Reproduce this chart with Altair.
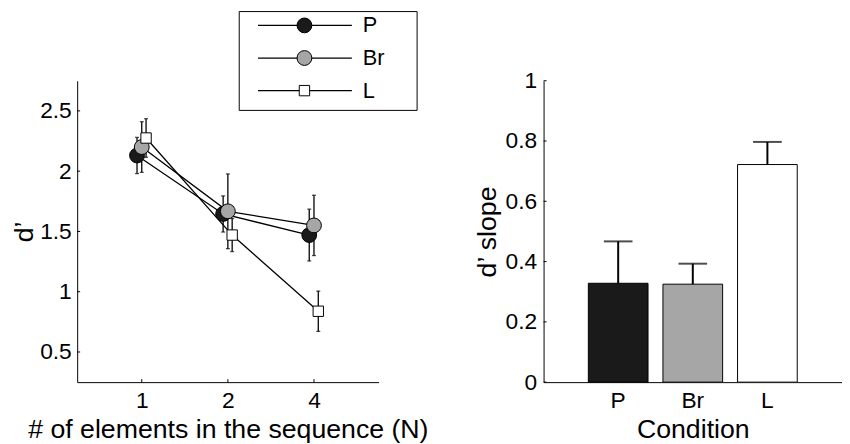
import altair as alt
import pandas as pd

# ---------------- data ----------------
N_labels = ["1", "2", "4"]
series = ["P", "Br", "L"]
dprime_P = [2.13, 1.645, 1.47]
dprime_Br = [2.20, 1.667, 1.55]
dprime_L = [2.275, 1.47, 0.838]
err_P = [0.15, 0.15, 0.215]
err_Br = [0.21, 0.31, 0.25]
err_L = [0.16, 0.137, 0.167]
slope = [0.328, 0.325, 0.722]
slope_err = [0.139, 0.068, 0.075]
left_yticks = [0.5, 1, 1.5, 2, 2.5]
right_yticks = [0, 0.2, 0.4, 0.6, 0.8, 1]

# ---------------- style ----------------
FONT = "Liberation Sans"
fills = ["#1a1a1a", "#a6a6a6", "#ffffff"]
marker_shape = {"P": "circle", "Br": "circle", "L": "square"}
marker_size = {"P": 225, "Br": 225, "L": 110}
dodge = {"P": -0.055, "Br": 0.0, "L": 0.05}

rows = []
for s, vals, errs in [("P", dprime_P, err_P), ("Br", dprime_Br, err_Br), ("L", dprime_L, err_L)]:
    for i, (v, e) in enumerate(zip(vals, errs)):
        rows.append({"series": s, "idx": i + 1, "xpos": i + 1 + dodge[s],
                     "d": v, "lo": v - e, "hi": v + e})
df = pd.DataFrame(rows)

W1, W2, H = 305, 302, 305
xs = alt.Scale(domain=[0.25, 3.75], nice=False, zero=False)
ys = alt.Scale(domain=[0.25, 2.75], nice=False, zero=False)
color_sc = alt.Scale(domain=series, range=fills)

label_expr = "[" + ",".join("'%s'" % l for l in N_labels) + "][datum.value - 1]"
XTITLE = "# of elements in the sequence (N)"
YTITLE = "d\u2019"


def xq(field):
    return alt.X(field, type="quantitative", scale=xs, title=XTITLE,
                 axis=alt.Axis(values=[1, 2, 3], labelExpr=label_expr, labelPadding=8,
                               titlePadding=4, labelAngle=0))


def yq(field):
    return alt.Y(field, type="quantitative", scale=ys, title=YTITLE,
                 axis=alt.Axis(values=left_yticks, format="~g", labelPadding=6, titlePadding=1))


def fill_enc(field):
    return alt.Fill(field, type="nominal", scale=color_sc, legend=None)


base = alt.Chart(df)
err_rule = base.mark_rule(color="black", strokeWidth=1.3).encode(x=xq("xpos"), y=yq("lo"), y2="hi:Q")
cap_lo = base.mark_tick(orient="horizontal", size=4, thickness=1.3, color="black").encode(x=xq("xpos"), y=yq("lo"))
cap_hi = base.mark_tick(orient="horizontal", size=4, thickness=1.3, color="black").encode(x=xq("xpos"), y=yq("hi"))
lines = base.mark_line(color="black", strokeWidth=1.3).encode(
    x=xq("xpos"), y=yq("d"), detail="series:N", order="idx:Q")

point_layers = []
for s in series:
    point_layers.append(
        base.transform_filter(alt.datum.series == s).mark_point(
            filled=True, stroke="black", strokeWidth=1, opacity=1, fillOpacity=1,
            shape=marker_shape[s], size=marker_size[s]
        ).encode(x=xq("xpos"), y=yq("d"), fill=fill_enc("series"))
    )

yt_left = alt.Chart(pd.DataFrame({"v": left_yticks})).mark_rule(color="black", strokeWidth=1).encode(
    y=yq("v"), x=alt.value(0), x2=alt.value(3))
xt_left = alt.Chart(pd.DataFrame({"v": [1, 2, 3]})).mark_rule(color="black", strokeWidth=1).encode(
    x=xq("v"), y=alt.value(H), y2=alt.value(H - 3))

# legend drawn in the left panel
legend_layers = [
    alt.Chart(pd.DataFrame({"series": ["box"]})).mark_rect(fill="white", stroke="black", strokeWidth=1).encode(
        x=alt.value(164), x2=alt.value(344), y=alt.value(-70), y2=alt.value(30))
]
LY = [-56, -23, 10]
for i, s in enumerate(series):
    ld = alt.Chart(pd.DataFrame({"series": [s]}))
    legend_layers.append(ld.mark_rule(color="black", strokeWidth=1.3).encode(
        x=alt.value(183), x2=alt.value(278), y=alt.value(LY[i])))
    legend_layers.append(ld.mark_point(
        filled=True, stroke="black", strokeWidth=1, opacity=1, fillOpacity=1,
        shape=marker_shape[s], size=marker_size[s]
    ).encode(x=alt.value(230), y=alt.value(LY[i]), fill=fill_enc("series")))
    legend_layers.append(ld.mark_text(align="left", baseline="middle", font=FONT, fontSize=22, color="black").encode(
        x=alt.value(289), y=alt.value(LY[i]), text="series:N"))

left = alt.layer(err_rule, cap_lo, cap_hi, lines, *point_layers, yt_left, xt_left, *legend_layers).properties(
    width=W1, height=H)

# ---------------- right panel ----------------
df2 = pd.DataFrame({"cond": series, "slope": slope,
                    "hi": [a + b for a, b in zip(slope, slope_err)]})
xb_scale = alt.Scale(domain=series, paddingInner=0.2, paddingOuter=0.6)
yb_scale = alt.Scale(domain=[0, 1], nice=False, zero=True)


def xb():
    return alt.X("cond:N", sort=series, scale=xb_scale, title="Condition",
                 axis=alt.Axis(labelAngle=0, labelPadding=8, titlePadding=4))


def yb(field):
    return alt.Y(field, type="quantitative", scale=yb_scale, title="d\u2019 slope",
                 axis=alt.Axis(values=right_yticks, format="~g", labelPadding=7, titlePadding=4))


b2 = alt.Chart(df2)
bars = b2.mark_bar(stroke="black", strokeWidth=1).encode(
    x=xb(), y=yb("slope"), fill=fill_enc("cond"))
berr = b2.mark_rule(color="black", strokeWidth=2).encode(x=xb(), y=yb("slope"), y2="hi:Q")
bcap = b2.mark_tick(orient="horizontal", size=29, thickness=2, color="black").encode(x=xb(), y=yb("hi"))
yt_right = alt.Chart(pd.DataFrame({"v": right_yticks})).mark_rule(color="black", strokeWidth=1).encode(
    y=yb("v"), x=alt.value(0), x2=alt.value(3))

right = alt.layer(bars, berr, bcap, yt_right).properties(width=W2, height=H)

chart = alt.hconcat(left, right, spacing=167, bounds="flush").properties(
    padding={"left": 3, "top": 0, "right": 0, "bottom": 0}, background="white"
).configure_axis(
    labelFont=FONT, titleFont=FONT, labelFontSize=23, titleFontSize=27,
    titleFontWeight="normal", labelColor="black", titleColor="black",
    domainColor="black", domainWidth=1, grid=False, ticks=False, tickSize=0
).configure_view(stroke=None)

chart.save("out.html", embed_options={"renderer": "svg", "actions": False})
